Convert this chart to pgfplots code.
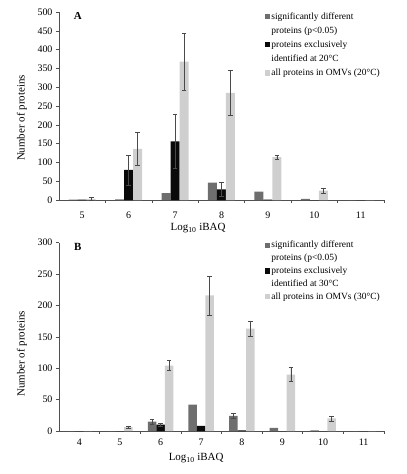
\documentclass[border=0pt]{standalone}
\usepackage{fontspec}
\setmainfont{Liberation Serif}
\usepackage{pgfplots}
\pgfplotsset{compat=1.18}

\definecolor{sigcol}{HTML}{6E6E6E}
\definecolor{exccol}{HTML}{0A0A0A}
\definecolor{allcol}{HTML}{CFCFCF}
\definecolor{errcol}{HTML}{4A4A4A}
\definecolor{axcol}{HTML}{505050}

\pgfplotsset{
  panel/.style={
    scale only axis, width=325bp,
    axis x line*=bottom, axis y line*=left,
    axis line style={axcol, line width=0.6pt},
    ymin=0,
    major x tick style={draw=none},
    minor x tick style={axcol, line width=0.6pt},
    minor tick length=3bp,
    major tick length=3bp,
    tick align=outside,
    ytick style={axcol, line width=0.6pt},
    tick label style={font=\fontsize{10}{12}\selectfont},
    /pgf/number format/assume math mode=true,
    xlabel={Log\textsubscript{10} iBAQ},
    ylabel={Number of proteins},
    label style={font=\fontsize{11}{13}\selectfont},
    ybar, bar width=9bp,
    legend style={draw=none, fill=none, inner sep=0pt,
      font=\fontsize{9.5}{11}\selectfont,
      cells={anchor=base west},
      /tikz/every even column/.style={column sep=2.5bp}},
  },
  bars/.style={draw=none, fill=#1, forget plot,
    error bars/y dir=both, error bars/y explicit,
    error bars/error bar style={errcol, line width=0.6pt},
    error bars/error mark options={rotate=90, mark size=2.3bp, errcol, line width=0.6pt}},
  sq/.style={legend image code/.code={\fill[#1] (0bp,0.6bp) rectangle (4.4bp,5bp);}},
  nosq/.style={legend image code/.code={}},
}

\begin{document}
\begin{tikzpicture}
\useasboundingbox (0,0) rectangle (407bp,-474bp);

% ---- panel A (20 C) ----
\begin{axis}[panel,
  at={(59bp,-200bp)}, anchor=south west, height=188bp,
  xmin=4.5, xmax=11.5, ymax=500, ytick distance=50,
  xtick={5,...,11}, minor xtick={5.5,6.5,...,11.5},
  xticklabel style={yshift=-5.5bp},
  xlabel style={at={(axis description cs:0.428,0)}, anchor=center, yshift=-28bp},
  ylabel style={at={(axis description cs:-0.114,0.436)}, anchor=center},
  legend style={at={(axis description cs:0.632,1.009),}, anchor=north west, row sep=2bp},
]
\addplot[bars=sigcol, bar shift=-9bp] coordinates {
  (5,1) (6,2) (7,18) (8,46) (9,22) (10,3) (11,0)};
\addplot[bars=exccol, bar shift=0bp] coordinates {
  (5,1) (6,80) +- (0,40) (7,156) +- (0,72) (8,28) +- (0,18) (9,1) (10,0) (11,0)};
\addplot[bars=allcol, bar shift=9bp] coordinates {
  (5,3) +- (0,4) (6,136) +- (0,44) (7,368) +- (0,75) (8,285) +- (0,59)
  (9,114) +- (0,6) (10,25) +- (0,7) (11,0)};
\addlegendimage{sq=sigcol}\addlegendentry{significantly different}
\addlegendimage{nosq}\addlegendentry{proteins (p<0.05)}
\addlegendimage{sq=exccol}\addlegendentry{proteins exclusively}
\addlegendimage{nosq}\addlegendentry{identified at 20°C\rule[-6.5bp]{0pt}{1pt}}
\addlegendimage{sq=allcol}\addlegendentry{all proteins in OMVs (20°C)}
\node[font=\fontsize{11}{13}\selectfont\bfseries] at (axis description cs:0.058,0.978) {A};
\end{axis}

% ---- panel B (30 C) ----
\begin{axis}[panel,
  at={(59bp,-431bp)}, anchor=south west, height=188.3bp, bar width=8.5bp,
  xmin=3.5, xmax=11.5, ymax=300, ytick distance=50,
  xtick={4,...,11}, minor xtick={4.5,5.5,...,11.5},
  xticklabel style={yshift=-1.5bp},
  xlabel style={at={(axis description cs:0.422,0)}, anchor=center, yshift=-27bp},
  ylabel style={at={(axis description cs:-0.114,0.409)}, anchor=center},
  legend style={at={(axis description cs:0.632,1.02)}, anchor=north west, row sep=0.8bp},
]
\addplot[bars=sigcol, bar shift=-8.5bp] coordinates {
  (4,0) (5,0) (6,15) +- (0,4) (7,42) (8,24) +- (0,4) (9,5) (10,1) (11,0)};
\addplot[bars=exccol, bar shift=0bp] coordinates {
  (4,0) (5,0) (6,10) +- (0,2) (7,8) (8,1) (9,0) (10,0) (11,0)};
\addplot[bars=allcol, bar shift=8.5bp] coordinates {
  (4,0) (5,6) +- (0,2) (6,104) +- (0,8) (7,216) +- (0,31) (8,163) +- (0,12)
  (9,90) +- (0,11) (10,20) +- (0,4) (11,0)};
\addlegendimage{sq=sigcol}\addlegendentry{significantly different}
\addlegendimage{nosq}\addlegendentry{proteins (p<0.05)\rule[-10.5bp]{0pt}{1pt}}
\addlegendimage{sq=exccol}\addlegendentry{proteins exclusively}
\addlegendimage{nosq}\addlegendentry{identified at 30°C\rule[-10.5bp]{0pt}{1pt}}
\addlegendimage{sq=allcol}\addlegendentry{all proteins in OMVs (30°C)}
\node[font=\fontsize{11}{13}\selectfont\bfseries] at (axis description cs:0.058,0.977) {B};
\end{axis}
\end{tikzpicture}
\end{document}
